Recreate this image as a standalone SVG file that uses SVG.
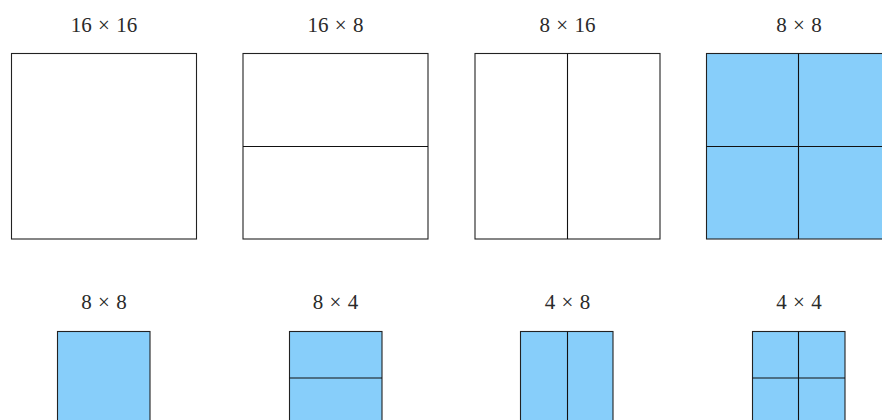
<svg xmlns="http://www.w3.org/2000/svg" width="882" height="420" viewBox="0 0 882 420">
<style>
.lbl{font-family:"Liberation Serif","DejaVu Serif",serif;font-size:21px;fill:#2a2a2a;text-anchor:middle;word-spacing:1px}
.box{fill:#fff;stroke:#222;stroke-width:1.1}
.blue{fill:#87cefa;stroke:#222;stroke-width:1.1}
.ln{stroke:#111;stroke-width:1.1;fill:none}
</style>
<rect width="882" height="420" fill="#fff"/>
<g id="b16x16">
<text class="lbl" x="104" y="32">16 × 16</text>
<rect class="box" x="11.5" y="53.5" width="185" height="185.5"/>
</g>
<g id="b16x8">
<text class="lbl" x="335.5" y="32">16 × 8</text>
<rect class="box" x="243" y="53.5" width="185" height="185.5"/>
<line class="ln" x1="243" y1="146.5" x2="428" y2="146.5"/>
</g>
<g id="b8x16">
<text class="lbl" x="567.5" y="32">8 × 16</text>
<rect class="box" x="475" y="53.5" width="185" height="185.5"/>
<line class="ln" x1="567.5" y1="53.5" x2="567.5" y2="239"/>
</g>
<g id="b8x8top">
<text class="lbl" x="799" y="32">8 × 8</text>
<rect class="blue" x="706.5" y="53.5" width="185" height="185.5"/>
<line class="ln" x1="798.5" y1="53.5" x2="798.5" y2="239"/>
<line class="ln" x1="706.5" y1="146.5" x2="891.5" y2="146.5"/>
</g>
<g id="b8x8">
<text class="lbl" x="104" y="309">8 × 8</text>
<rect class="blue" x="57.5" y="331.5" width="92.5" height="93"/>
</g>
<g id="b8x4">
<text class="lbl" x="335.5" y="309">8 × 4</text>
<rect class="blue" x="289.5" y="331.5" width="92.5" height="93"/>
<line class="ln" x1="289.5" y1="378" x2="382" y2="378"/>
</g>
<g id="b4x8">
<text class="lbl" x="567.5" y="309">4 × 8</text>
<rect class="blue" x="520.5" y="331.5" width="92.5" height="93"/>
<line class="ln" x1="567.5" y1="331.5" x2="567.5" y2="424.5"/>
</g>
<g id="b4x4">
<text class="lbl" x="799" y="309">4 × 4</text>
<rect class="blue" x="752.5" y="331.5" width="92.5" height="93"/>
<line class="ln" x1="798.5" y1="331.5" x2="798.5" y2="424.5"/>
<line class="ln" x1="752.5" y1="378" x2="845" y2="378"/>
</g>
</svg>
